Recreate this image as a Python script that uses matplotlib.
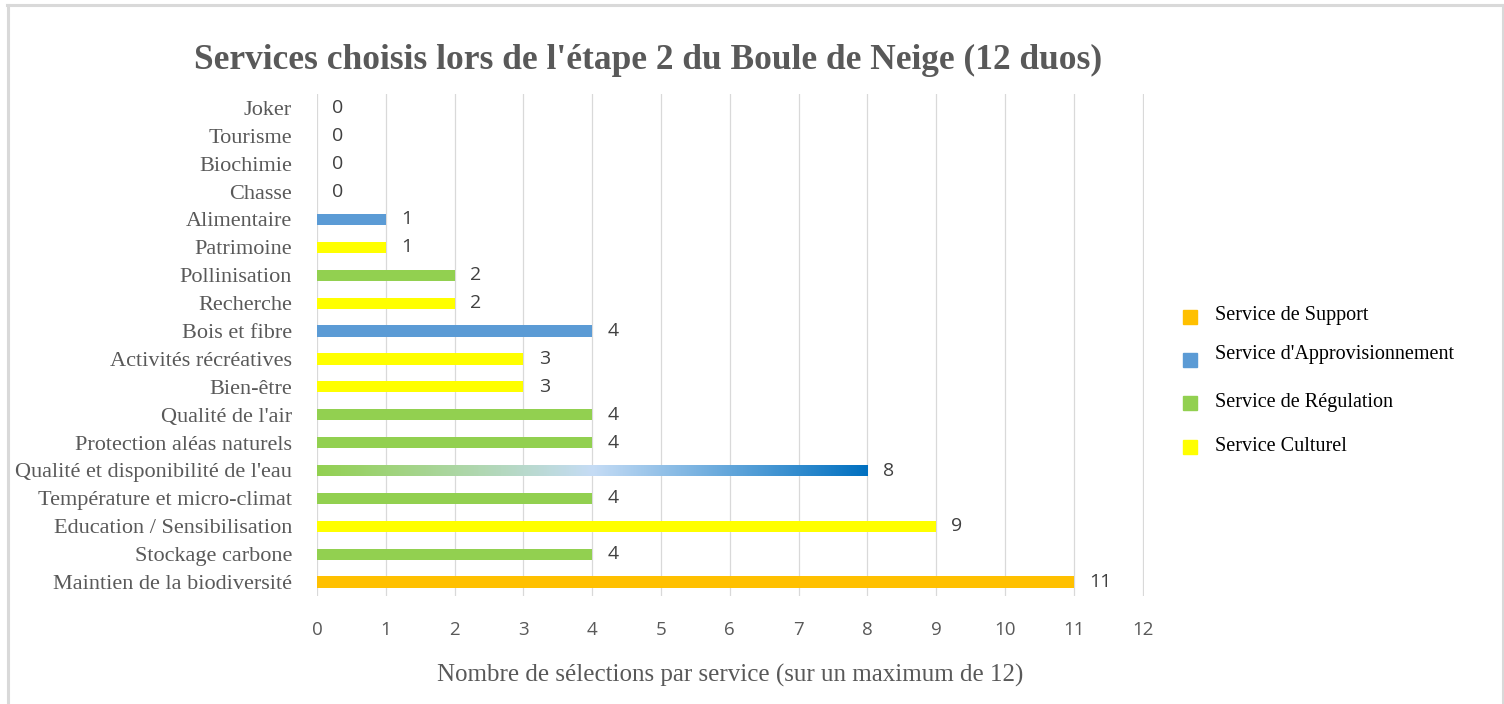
import matplotlib
matplotlib.use("Agg")
import matplotlib.pyplot as plt
import numpy as np
from matplotlib.colors import LinearSegmentedColormap
from matplotlib.lines import Line2D

# ---- data (top to bottom as displayed) ----
categories = ["Joker", "Tourisme", "Biochimie", "Chasse", "Alimentaire", "Patrimoine",
              "Pollinisation", "Recherche", "Bois et fibre", "Activités récréatives",
              "Bien-être", "Qualité de l'air", "Protection aléas naturels",
              "Qualité et disponibilité de l'eau", "Température et micro-climat",
              "Education / Sensibilisation", "Stockage carbone", "Maintien de la biodiversité"]
values = [0, 0, 0, 0, 1, 1, 2, 2, 4, 3, 3, 4, 4, 8, 4, 9, 4, 11]
types = ["none", "none", "none", "none", "appro", "culturel", "regulation", "culturel",
         "appro", "culturel", "culturel", "regulation", "regulation", "gradient",
         "regulation", "culturel", "regulation", "support"]
legend_labels = ["Service de Support", "Service d'Approvisionnement",
                 "Service de Régulation", "Service Culturel"]
legend_keys = ["support", "appro", "regulation", "culturel"]
x_ticks = list(range(0, 13))

colors = {"support": "#FFC000", "appro": "#5B9BD5", "regulation": "#92D050",
          "culturel": "#FFFF00", "none": "#FFFFFF", "gradient": "#92D050"}

W, H = 1504, 704
fig = plt.figure(figsize=(W / 100, H / 100), dpi=100)
ax = fig.add_axes([317 / W, 1 - 596 / H, (1144 - 317) / W, (596 - 94) / H])

cats = categories[::-1]
vals = values[::-1]
tps = types[::-1]
ypos = np.arange(len(cats))
bars = ax.barh(ypos, vals, height=0.40, color=[colors[t] for t in tps], zorder=3)

# gradient bar
grad_cmap = LinearSegmentedColormap.from_list(
    "g", [(0.0, "#92D050"), (0.5, "#C5DCF5"), (1.0, "#0070C0")])
for b, t in zip(bars, tps):
    if t == "gradient":
        x0, y0 = b.get_x(), b.get_y()
        w, h = b.get_width(), b.get_height()
        im = ax.imshow(np.linspace(0, 1, 256).reshape(1, -1), cmap=grad_cmap,
                       extent=[x0, x0 + w, y0, y0 + h], aspect="auto", zorder=4)
        im.set_clip_path(b)

ax.bar_label(bars, labels=[str(v) for v in vals], padding=11,
             fontsize=14, color="#404040", family="Open Sans")

ax.set_xlim(0, 12.02)
ax.set_ylim(-0.5, len(cats) - 0.5)
ax.set_xticks(x_ticks)
ax.set_xticklabels([str(t) for t in x_ticks], fontsize=13.5, color="#595959",
                   family="Open Sans")
ax.set_yticks(ypos)
ax.set_yticklabels(cats, fontsize=16, color="#595959", family="Liberation Serif")
ax.tick_params(axis="x", length=0, pad=18)
ax.tick_params(axis="y", length=0, pad=18)
ax.grid(axis="x", color="#D9D9D9", linewidth=0.9, zorder=0)
for s in ax.spines.values():
    s.set_visible(False)
ax.set_xlabel("Nombre de sélections par service (sur un maximum de 12)",
              fontsize=18, color="#595959", family="Liberation Serif", labelpad=18)

fig.text(648 / W, 1 - 60 / H, "Services choisis lors de l'étape 2 du Boule de Neige (12 duos)",
         ha="center", va="center", fontsize=25.5, fontweight="bold", color="#595959",
         family="Liberation Serif")

# legend (placed manually)
leg_text_y = [315, 355, 403, 447]
leg_mark_y = [317, 360, 403, 447]
for key, lab, ty, my in zip(legend_keys, legend_labels, leg_text_y, leg_mark_y):
    fig.add_artist(Line2D([1190 / W], [1 - my / H], marker="s", linestyle="none",
                          markersize=9.5, markerfacecolor=colors[key],
                          markeredgecolor=colors[key], transform=fig.transFigure))
    fig.text(1215 / W, 1 - ty / H, lab, ha="left", va="center", fontsize=14.5,
             color="#000000", family="Liberation Serif")

# figure border
fig.add_artist(Line2D([7 / W, 1503 / W], [1 - 5 / H, 1 - 5 / H], color="#D9D9D9", lw=2.2,
                      transform=fig.transFigure))
fig.add_artist(Line2D([8 / W, 8 / W], [0, 1 - 5 / H], color="#D9D9D9", lw=2.2,
                      transform=fig.transFigure))
fig.add_artist(Line2D([1503 / W, 1503 / W], [0, 1 - 5 / H], color="#D9D9D9", lw=2.2,
                      transform=fig.transFigure))

fig.savefig("out.png", dpi=100, facecolor="white")
